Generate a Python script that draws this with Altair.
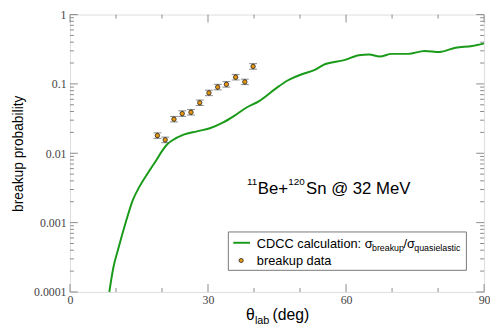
import altair as alt
import pandas as pd

# ---- data ----
curve_theta = [8.55, 9.4, 10.5, 11.9, 13.7, 15.1, 16.9, 17.6, 18.8, 20.1, 21.2, 22.2, 24.7, 27.6,
               30.4, 33.3, 35.7, 38.2, 41.1, 44.7, 47.2, 50.4, 53.2, 55.0, 59.6, 62.8,
               65.0, 67.3, 69.9, 73.5, 77.1, 80.3, 83.8, 87.4, 90.0]
curve_prob = [1.0e-4, 2.2e-4, 4.2e-4, 9.0e-4, 2.15e-3, 3.3e-3, 5.15e-3, 6.07e-3, 8.0e-3,
              1.10e-2, 1.36e-2, 1.53e-2, 1.86e-2, 2.07e-2, 2.29e-2, 2.78e-2, 3.46e-2,
              4.49e-2, 5.65e-2, 8.55e-2, 0.111, 0.138, 0.159, 0.187, 0.220, 0.259,
              0.265, 0.248, 0.271, 0.271, 0.299, 0.289, 0.333, 0.352, 0.384]

data_theta = [19.0, 20.7, 22.6, 24.4, 26.3, 28.2, 30.2, 32.1, 34.0, 36.0, 38.0, 39.8]
data_prob = [0.0180, 0.0156, 0.0310, 0.0373, 0.0390, 0.0535, 0.0742, 0.0900, 0.0985,
             0.125, 0.107, 0.179]
data_lo = [0.0164, 0.0142, 0.0283, 0.0340, 0.0356, 0.0488, 0.0677, 0.0821, 0.0899,
           0.114, 0.0977, 0.163]
data_hi = [0.0197, 0.0171, 0.0340, 0.0409, 0.0427, 0.0586, 0.0813, 0.0986, 0.108,
           0.137, 0.117, 0.196]

x_major = [0, 30, 60, 90]
x_minor = [10, 20, 40, 50, 70, 80]
y_major = [0.0001, 0.001, 0.01, 0.1, 1]
y_minor = [m * 10.0 ** k for k in range(-4, 0) for m in range(2, 10)]

W, H = 421, 282
GREEN = "#199a19"
GRAY = "#8a8a8a"
SANS = "Liberation Sans"
SERIF = "Liberation Serif"

curve_df = pd.DataFrame({"theta": curve_theta, "prob": curve_prob})
pts_df = pd.DataFrame({"theta": data_theta, "prob": data_prob, "lo": data_lo, "hi": data_hi})
one = pd.DataFrame({"a": [0]})

xs = alt.Scale(domain=[0, 90], nice=False, zero=False)
ys = alt.Scale(type="log", domain=[1e-4, 1], nice=False)

XAX = alt.Axis(values=x_major, ticks=False, domain=False, grid=False, labelFlush=False,
               labelFont=SERIF, labelFontSize=12, labelColor="#444", labelPadding=3,
               title=None)
YAX = alt.Axis(values=y_major, format="~g", ticks=False, domain=False, grid=False,
               labelFont=SERIF, labelFontSize=12, labelColor="#444", labelPadding=4,
               title="breakup probability", titleFont=SANS, titleFontSize=14,
               titleFontWeight="normal", titleColor="black", titleAngle=-90,
               titleX=-52, titleY=H / 2, titleAlign="center", titleBaseline="middle")

def X(f):
    return alt.X(f, scale=xs, axis=XAX)

def Y(f):
    return alt.Y(f, scale=ys, axis=YAX)

# ---- inner tick marks ----
def xticks(vals, length):
    d = pd.DataFrame({"t": vals})
    b = alt.Chart(d).mark_rule(color=GRAY).encode(
        x=X("t:Q"), y=alt.value(H), y2=alt.value(H - length))
    t = alt.Chart(d).mark_rule(color=GRAY).encode(
        x=X("t:Q"), y=alt.value(0), y2=alt.value(length))
    return [b, t]

def yticks(vals, length):
    d = pd.DataFrame({"t": vals})
    l = alt.Chart(d).mark_rule(color=GRAY).encode(
        y=Y("t:Q"), x=alt.value(0), x2=alt.value(length))
    r = alt.Chart(d).mark_rule(color=GRAY).encode(
        y=Y("t:Q"), x=alt.value(W), x2=alt.value(W - length))
    return [l, r]

tick_layers = xticks(x_major, 8) + xticks(x_minor, 4) + yticks(y_major, 8) + yticks(y_minor, 4)

curve = alt.Chart(curve_df).mark_line(color=GREEN, strokeWidth=2, clip=True,
                                      interpolate="monotone").encode(
    x=X("theta:Q"), y=Y("prob:Q"))

err = alt.Chart(pts_df).mark_rule(color="#555", strokeWidth=1).encode(
    x=X("theta:Q"), y=Y("lo:Q"), y2="hi:Q")
cap_lo = alt.Chart(pts_df).mark_tick(orient="horizontal", size=8, thickness=1, color="#555").encode(
    x=X("theta:Q"), y=Y("lo:Q"))
cap_hi = alt.Chart(pts_df).mark_tick(orient="horizontal", size=8, thickness=1, color="#555").encode(
    x=X("theta:Q"), y=Y("hi:Q"))
pts = alt.Chart(pts_df).mark_circle(size=20, color="#e8960c", stroke="#222", strokeWidth=0.8,
                                    opacity=1).encode(
    x=X("theta:Q"), y=Y("prob:Q"))

def txt(s, px, py, size, font=SANS, color="black"):
    return alt.Chart(one).mark_text(text=s, fontSize=size, font=font, color=color,
                                    align="left", baseline="alphabetic").encode(
        x=alt.value(px), y=alt.value(py))

# ---- legend ----
leg_box = alt.Chart(one).mark_rect(fill="white", stroke="#777", strokeWidth=1).encode(
    x=alt.value(161), x2=alt.value(403), y=alt.value(221), y2=alt.value(260))
leg_line = alt.Chart(one).mark_rule(color=GREEN, strokeWidth=2).encode(
    x=alt.value(166), x2=alt.value(183), y=alt.value(232))
leg_pt = alt.Chart(one).mark_circle(size=18, color="#e8960c", stroke="#222", strokeWidth=0.8,
                                    opacity=1).encode(x=alt.value(174), y=alt.value(250))
legend = [leg_box, leg_line, leg_pt,
          txt("CDCC calculation: σ", 190, 237, 13),
          txt("breakup", 307, 240, 9),
          txt("/σ", 339, 237, 13),
          txt("quasielastic", 350, 240, 9),
          txt("breakup data", 190, 255, 13)]

# ---- annotation and x title ----
annot = [txt("11", 180, 173, 10),
         txt("Be+", 191, 182, 17),
         txt("120", 222, 173, 10),
         txt("Sn @ 32 MeV", 240, 182, 17)]
xtitle = [txt("θ", 179, 311, 16),
          txt("lab", 188, 315, 11),
          txt("(deg)", 206, 311, 16)]

chart = alt.layer(curve, *tick_layers, err, cap_lo, cap_hi, pts, *legend, *annot, *xtitle).properties(
    width=W, height=H,
    autosize=alt.AutoSizeParams(type="none"),
    padding={"left": 63, "top": 4, "right": 6, "bottom": 36},
).configure_view(stroke=GRAY, strokeWidth=1).configure(background="white")

chart.save("out.html", embed_options={"renderer": "svg", "actions": False})
